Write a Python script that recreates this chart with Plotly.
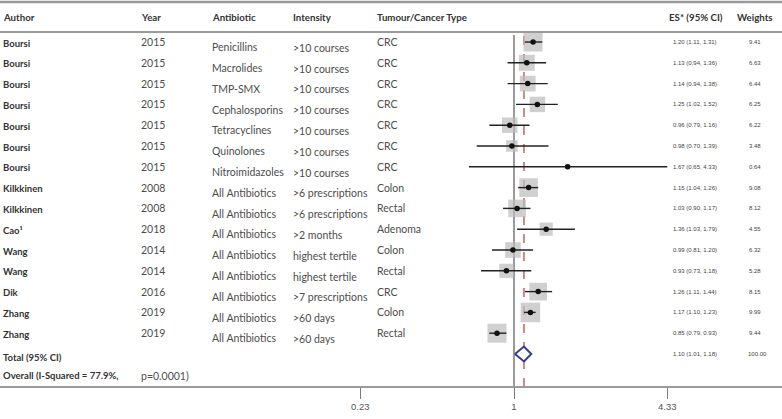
import math
import plotly.graph_objects as go

# ---------------- data ----------------
authors = ["Boursi", "Boursi", "Boursi", "Boursi", "Boursi", "Boursi", "Boursi",
           "Kilkkinen", "Kilkkinen", "Cao¹", "Wang", "Wang", "Dik", "Zhang", "Zhang"]
years = ["2015", "2015", "2015", "2015", "2015", "2015", "2015",
         "2008", "2008", "2018", "2014", "2014", "2016", "2019", "2019"]
antibiotics = ["Penicillins", "Macrolides", "TMP-SMX", "Cephalosporins", "Tetracyclines",
               "Quinolones", "Nitroimidazoles"] + ["All Antibiotics"] * 8
intensity = [">10 courses"] * 7 + [">6 prescriptions", ">6 prescriptions", ">2 months",
                                   "highest tertile", "highest tertile", ">7 prescriptions",
                                   ">60 days", ">60 days"]
tumour = ["CRC"] * 7 + ["Colon", "Rectal", "Adenoma", "Colon", "Rectal", "CRC", "Colon", "Rectal"]
es = [1.20, 1.13, 1.14, 1.25, 0.96, 0.98, 1.67, 1.15, 1.03, 1.36, 0.99, 0.93, 1.26, 1.17, 0.85]
ci_lo = [1.11, 0.94, 0.94, 1.02, 0.79, 0.70, 0.65, 1.04, 0.90, 1.03, 0.81, 0.73, 1.11, 1.10, 0.79]
ci_hi = [1.31, 1.36, 1.38, 1.52, 1.16, 1.39, 4.33, 1.26, 1.17, 1.79, 1.20, 1.18, 1.44, 1.23, 0.93]
weights = [9.41, 6.63, 6.44, 6.25, 6.22, 3.48, 0.64, 9.08, 8.12, 4.55, 6.32, 5.28, 8.15, 9.99, 9.44]

pooled_es, pooled_lo, pooled_hi, pooled_w = 1.10, 1.01, 1.18, 100.00
headers = ["Author", "Year", "Antibiotic", "Intensity", "Tumour/Cancer Type", "ES* (95% CI)", "Weights"]
tick_vals = [0.23, 1, 4.33]
tick_text = ["0.23", "1", "4.33"]
total_label = "Total (95% CI)"
overall_label = "Overall (I-Squared = 77.9%,"
overall_p = "p=0.0001)"

# ---------------- layout helpers ----------------
W, H = 782, 419
ROW0, ROWH = 42.0, 20.8          # pixel of first row, pixels per row
PX_ONE, PX_PER_LN = 514.0, 104.6  # pixel of x=1, pixels per ln unit


def yrow(px):
    return (px - ROW0) / ROWH


def xp(px):
    return px / W


def yp(px):
    return 1 - px / H


n = len(es)
rows = list(range(n))
pooled_row = n
overall_row = n + 1

BOLD = "#333333"
REG_FONT = dict(family="Lato, 'Open Sans', sans-serif", size=10.5, color="#4d4d4d")
BOLD_FONT = dict(family="Lato, 'Open Sans', sans-serif", size=9.5, color=BOLD, weight="bold")
HDR_FONT = dict(family="Lato, 'Open Sans', sans-serif", size=9.7, color=BOLD, weight="bold")
SMALL_FONT = dict(family="'Liberation Sans', Arial, sans-serif", size=6, color="#444444")

fig = go.Figure()

# squares (weights)
fig.add_trace(go.Scatter(
    x=es, y=rows, mode="markers",
    marker=dict(symbol="square", size=[6.2 * math.sqrt(w) for w in weights],
                color="#bcbcbc", line=dict(width=0)),
    hoverinfo="skip", showlegend=False))

# CI lines
cx, cy = [], []
for r, lo, hi in zip(rows, ci_lo, ci_hi):
    cx += [lo, hi, None]
    cy += [r, r, None]
fig.add_trace(go.Scatter(x=cx, y=cy, mode="lines", line=dict(color="#222222", width=1.4),
                         hoverinfo="skip", showlegend=False))

# point estimates
fig.add_trace(go.Scatter(x=es, y=rows, mode="markers",
                         marker=dict(symbol="circle", size=5.5, color="#111111"),
                         hoverinfo="skip", showlegend=False))

# pooled diamond
dh = 7.5 / ROWH
fig.add_trace(go.Scatter(
    x=[pooled_lo, pooled_es, pooled_hi, pooled_es, pooled_lo],
    y=[pooled_row, pooled_row - dh, pooled_row, pooled_row + dh, pooled_row],
    mode="lines", fill="toself", fillcolor="white",
    line=dict(color="#3a3a8c", width=2), hoverinfo="skip", showlegend=False))

# reference lines
shapes = []
shapes.append(dict(type="line", xref="x", yref="paper", x0=1, x1=1, y0=yp(387), y1=yp(35),
                   line=dict(color="#7a7a7a", width=1.5), layer="below"))
shapes.append(dict(type="line", xref="x", yref="paper", x0=pooled_es, x1=pooled_es,
                   y0=yp(387), y1=yp(35), line=dict(color="#b04040", width=1.2, dash="dash"),
                   layer="below"))
# table rules
for py, wdt in [(2, 2.5), (32, 2), (387, 2)]:
    shapes.append(dict(type="line", xref="paper", yref="paper", x0=0, x1=1, y0=yp(py), y1=yp(py),
                       line=dict(color="#9a9a9a", width=wdt)))

annotations = []


def txt(x_px, y, text, font, anchor="left"):
    annotations.append(dict(x=xp(x_px), y=y, xref="paper", yref="y", text=text, showarrow=False,
                            xanchor=anchor, yanchor="middle", font=font, borderpad=0, borderwidth=0))


# headers
hdr_x = [3, 141, 212, 293, 377, 669, 737]
for hx, h in zip(hdr_x, headers):
    txt(hx, yrow(17), h, HDR_FONT)

for r in rows:
    txt(3, r + 0.05, authors[r], BOLD_FONT)
    txt(141, r, years[r], REG_FONT)
    txt(212, r + 0.25, antibiotics[r], REG_FONT)
    txt(293, r + 0.28, intensity[r], REG_FONT)
    txt(377, r, tumour[r], REG_FONT)
    txt(695, r, f"{es[r]:.2f} ({ci_lo[r]:.2f}, {ci_hi[r]:.2f})", SMALL_FONT, "center")
    txt(755, r, f"{weights[r]:.2f}", SMALL_FONT, "center")

txt(3, pooled_row + 0.15, total_label, BOLD_FONT)
txt(695, pooled_row, f"{pooled_es:.2f} ({pooled_lo:.2f}, {pooled_hi:.2f})", SMALL_FONT, "center")
txt(757, pooled_row, f"{pooled_w:.2f}", SMALL_FONT, "center")
txt(3, overall_row + 0.05, overall_label, BOLD_FONT)
txt(141, overall_row + 0.05, overall_p, REG_FONT)

x_left = (0 - PX_ONE) / PX_PER_LN / math.log(10)
x_right = (W - PX_ONE) / PX_PER_LN / math.log(10)

fig.update_layout(
    width=W, height=H, margin=dict(l=0, r=0, t=0, b=0),
    paper_bgcolor="white", plot_bgcolor="white",
    shapes=shapes, annotations=annotations, showlegend=False,
    xaxis=dict(type="log", range=[x_left, x_right], domain=[0, 1], anchor="free",
               position=yp(387), showgrid=False, zeroline=False, showline=False,
               ticks="outside", ticklen=11, tickwidth=1, tickcolor="#7a7a7a",
               tickvals=tick_vals, ticktext=tick_text,
               tickfont=dict(family="'Liberation Sans', Arial, sans-serif", size=9.5, color="#555555")),
    yaxis=dict(range=[yrow(H), yrow(0)], domain=[0, 1], visible=False, showgrid=False,
               zeroline=False),
)

fig.write_html("out.html", config={"displayModeBar": False, "staticPlot": True},
               post_script="document.body.style.margin='0';document.body.style.overflow='hidden';")
